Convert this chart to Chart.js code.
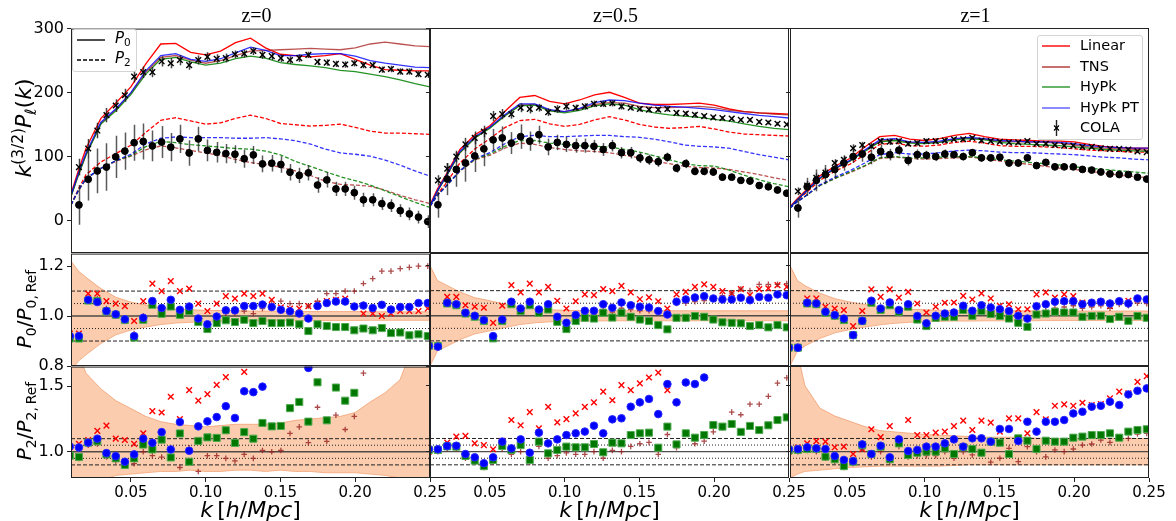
<!DOCTYPE html>
<html>
<head>
<meta charset="utf-8">
<title>Multipole comparison</title>
<script src="https://cdn.jsdelivr.net/npm/chart.js@4.4.1/dist/chart.umd.min.js"></script>
<style>
  html, body { margin: 0; padding: 0; background: #fff; }
  body { position: relative; width: 1176px; height: 521px; overflow: hidden; font-family: "DejaVu Sans", sans-serif; color: #000; }
  canvas { position: absolute; }
  .txt { position: absolute; white-space: nowrap; line-height: 1; z-index: 5; }
  .title { font-family: "Liberation Serif", serif; font-size: 20px; transform: translateX(-50%); top: 5px; }
  .xlab { font-size: 22px; transform: translateX(-50%); top: 499px; }
  .ylab { transform: translate(-50%, -50%) rotate(-90deg); }
  .sb { font-size: 0.7em; vertical-align: -0.3em; }
  .sp { font-size: 0.7em; vertical-align: 0.55em; }
  .leg { position: absolute; background: rgba(255,255,255,0.8); border: 1px solid #d4d4d4; border-radius: 3px; box-sizing: border-box; z-index: 4; }
  .sw { position: absolute; z-index: 5; }
</style>
</head>
<body>
<script>
// k bins of the COLA measurement (h/Mpc)
const kBins = [0.0092, 0.0153, 0.0215, 0.0276, 0.0337, 0.0399, 0.0460, 0.0522, 0.0583, 0.0644,
  0.0706, 0.0767, 0.0828, 0.0890, 0.0951, 0.1012, 0.1074, 0.1135, 0.1196, 0.1258,
  0.1319, 0.1380, 0.1442, 0.1503, 0.1564, 0.1626, 0.1687, 0.1748, 0.1810, 0.1871,
  0.1933, 0.1994, 0.2055, 0.2117, 0.2178, 0.2239, 0.2301, 0.2362, 0.2423, 0.2485];
// k grid of the model curves
const lineK = [0.01, 0.015, 0.02, 0.03, 0.04, 0.05, 0.06, 0.07, 0.08, 0.09, 0.10, 0.11, 0.12,
  0.13, 0.14, 0.15, 0.16, 0.17, 0.18, 0.19, 0.20, 0.21, 0.22, 0.23, 0.24, 0.25];
// k grid of the error bands
const bandK = [0.01, 0.015, 0.02, 0.03, 0.04, 0.05, 0.06, 0.07, 0.08, 0.09, 0.10, 0.11, 0.12,
  0.13, 0.14, 0.15, 0.16, 0.17, 0.18, 0.19, 0.20, 0.21, 0.22, 0.23, 0.235, 0.2422, 0.2425, 0.2428, 0.25];

const xTicks = [0.05, 0.10, 0.15, 0.20, 0.25];
const yTicksTop = [0, 100, 200, 300];
const yTicksP0 = [0.8, 1.0, 1.2];
const yTicksP2 = [1.0, 1.5];
const refLevels = [0.9, 0.95, 1.0, 1.05, 1.1];
const zLabels = ['z=0', 'z=0.5', 'z=1'];
const modelNames = ['Linear', 'TNS', 'HyPk', 'HyPk PT', 'COLA'];

// ---- z = 0 ----
const linP0_z0 = [42, 79, 113, 160, 184, 209, 245, 276, 277, 263, 259, 265, 278, 285, 270, 260, 258, 256, 258, 261, 252, 243, 236, 235, 234, 234];
const tnsP0_z0 = [38, 72, 103, 152, 174, 199, 232, 255, 258, 251, 246, 250, 258, 265, 266, 267, 268, 269, 268, 267, 270, 276, 279, 276, 273, 272];
const hypkP0_z0 = [38, 72, 103, 151, 172, 197, 229, 252, 255, 248, 243, 246, 253, 257, 254, 247, 244, 242, 239, 235, 233, 229, 225, 220, 214, 209];
const hypkptP0_z0 = [40, 75, 106, 154, 175, 200, 234, 258, 261, 252, 249, 253, 262, 271, 266, 258, 258, 260, 261, 261, 257, 250, 246, 243, 240, 239];
const linP2_z0 = [25, 50, 72, 92, 105, 118, 138, 157, 161, 156, 151, 153, 160, 165, 160, 152, 150, 148, 149, 151, 146, 140, 137, 137, 136, 135];
const tnsP2_z0 = [25, 47, 65, 82, 93, 101, 111, 117, 114, 110, 106, 102, 96, 91, 88, 84, 78, 71, 62, 57, 56, 54, 48, 40, 33, 27];
const hypkP2_z0 = [25, 48, 66, 82, 94, 102, 116, 124, 122, 119, 117, 115, 113, 112, 109, 103, 93, 85, 77, 69, 63, 56, 47, 38, 29, 21];
const hypkptP2_z0 = [25, 48, 66, 82, 94, 104, 120, 129, 131, 130, 130, 130, 129, 129, 130, 128, 125, 120, 112, 106, 104, 101, 95, 87, 78, 70];
const colaP0_z0 = [null, 84, 113, 141, 165, 180, 196, 225, 232, 232, 249, 246, 251, 243, 251, 256, 253, 254, 260, 261,
  265, 259, 257, 254, 251, 254, 259, 248, 247, 245, 244, 246, 243, 243, 236, 237, 233, 233, 229, 228];
const colaP0Err_z0 = [0, 13, 15, 12, 11, 10, 10, 9, 9, 8, 8, 8, 8, 7, 7, 7, 7, 7, 6, 6, 6, 6, 6, 6, 6, 6, 5, 5, 5, 5, 5, 5, 5, 5, 5, 5, 5, 5, 5, 5];
const colaP2_z0 = [null, 25, 65, 78, 84, 100, 109, 122, 124, 117, 123, 115, 128, 106, 128, 110, 107, 105, 104, 97,
  103, 89, 90, 88, 76, 71, 75, 56, 64, 50, 50, 44, 33, 33, 27, 24, 16, 11, 6, -1];
const colaP2Err_z0 = [0, 31, 33, 35, 37, 33, 29, 28, 28, 24, 25, 22, 22, 20, 19, 17, 16, 15, 14, 14, 14, 13, 13, 13, 13, 12, 12, 12, 12, 11, 11, 11, 11, 10, 10, 10, 10, 10, 10, 10];
const linR0_z0 = [0.93, 0.93, 1.09, 1.09, 1.06, 1.05, 1.04, 0.98, 1.06, 1.13, 1.10, 1.14, 1.10, 1.11, 1.05, 1.02, 1.05, 1.08, 1.07, 1.09,
  1.08, 1.09, 1.065, 1.035, 1.03, 1.03, 1.04, 1.05, 1.06, 1.065, 1.07, 1.04, 1.01, 1.01, 1.00, 1.01, 1.02, 1.02, 1.02, 1.03];
const tnsR0_z0 = [0.92, 0.92, 1.07, 1.07, 1.03, 1.01, 0.99, 0.93, 1.00, 1.06, 1.03, 1.06, 1.02, 1.03, 0.98, 0.97, 0.99, 1.01, 1.01, 1.02,
  1.01, 1.03, 1.05, 1.06, 1.05, 1.05, 1.04, 1.06, 1.09, 1.09, 1.10, 1.10, 1.13, 1.15, 1.18, 1.18, 1.19, 1.195, 1.20, 1.20];
const hypkptR0_z0 = [0.92, 0.92, 1.065, 1.056, 1.02, 1.007, 0.987, 0.92, 0.993, 1.06, 1.032, 1.065, 1.025, 1.038, 0.99, 0.967, 0.998, 1.023, 1.023, 1.04,
  1.04, 1.046, 1.036, 1.025, 1.019, 1.01, 0.99, 1.04, 1.052, 1.058, 1.058, 1.038, 1.042, 1.032, 1.045, 1.026, 1.036, 1.036, 1.052, 1.052];
const hypkR0_z0 = [0.91, 0.91, 1.062, 1.06, 1.019, 1.005, 0.984, 0.914, 0.985, 1.045, 1.009, 1.038, 1.005, 1.02, 0.976, 0.948, 0.972, 0.983, 0.976, 0.985,
  0.972, 0.98, 0.972, 0.972, 0.974, 0.967, 0.94, 0.967, 0.96, 0.956, 0.956, 0.943, 0.95, 0.943, 0.952, 0.932, 0.934, 0.923, 0.927, 0.92];
const linR2_z0 = [1.00, 1.06, 1.09, 1.16, 1.20, 1.10, 1.09, 1.06, 1.14, 1.31, 1.30, 1.42, 1.25, 1.47, 1.39, 1.44, 1.51, 1.57, 1.68, 1.61,
  1.72, 1.78, 1.80, 1.85, 1.90, 2.00, 2.00, 2.10, 2.10, 2.20, 2.20, 2.30, 2.40, 2.40, 2.50, 2.50, 2.60, 2.70, 2.80, 2.90];
const tnsR2_z0 = [0.97, 0.95, 1.05, 1.06, 0.96, 0.93, 0.89, 0.91, 1.00, 0.97, 0.96, 1.02, 0.88, 1.03, 0.85, 0.97, 0.97, 0.95, 0.93, 0.98,
  0.95, 1.01, 1.00, 1.01, 1.14, 1.19, 1.07, 1.34, 1.08, 1.28, 1.17, 1.27, 1.60, 1.70, 1.80, 1.90, 2.00, 2.10, 2.20, 2.30];
const hypkptR2_z0 = [1.04, 1.033, 1.07, 1.10, 0.99, 0.967, 0.924, 0.98, 1.10, 1.068, 1.15, 1.018, 1.227, 1.008, 1.194, 1.232, 1.265, 1.348, 1.258, 1.462,
  1.455, 1.497, 1.70, 1.75, 1.80, 1.85, 1.64, 1.90, 2.00, 2.10, 2.10, 2.20, 2.50, 2.60, 2.80, 3.00, 3.20, 3.40, 3.60, 3.80];
const hypkR2_z0 = [0.97, 0.96, 1.07, 1.08, 0.98, 0.95, 0.90, 0.95, 1.055, 1.018, 1.093, 0.957, 1.14, 0.924, 1.083, 1.11, 1.106, 1.164, 1.068, 1.15,
  1.10, 1.22, 1.194, 1.197, 1.333, 1.38, 1.23, 1.53, 1.24, 1.49, 1.39, 1.45, 1.75, 1.80, 1.90, 2.00, 2.10, 2.20, 2.30, 2.40];
const bandP0_z0 = [0.22, 0.18, 0.155, 0.11, 0.075, 0.056, 0.044, 0.034, 0.028, 0.025, 0.023, 0.022, 0.021, 0.02, 0.02,
  0.019, 0.019, 0.018, 0.018, 0.018, 0.018, 0.017, 0.017, 0.017, 0.017, 0.017, 0.017, 0.017, 0.017];
const bandUpP2_z0 = [2.5, 1.75, 1.60, 1.48, 1.39, 1.33, 1.27, 1.23, 1.21, 1.20, 1.19, 1.20, 1.21, 1.21, 1.21,
  1.22, 1.24, 1.25, 1.26, 1.27, 1.30, 1.38, 1.45, 1.55, 1.70, 2.5, 3.0, 2.5, 2.5];
const bandLoP2_z0 = [0.0, 0.5, 0.7, 0.78, 0.82, 0.83, 0.84, 0.85, 0.85, 0.86, 0.85, 0.85, 0.86, 0.86, 0.85,
  0.86, 0.85, 0.85, 0.84, 0.84, 0.84, 0.83, 0.82, 0.80, 0.78, 0.75, -1.0, 0.75, 0.7];

// ---- z = 0.5 ----
const linP0_z05 = [25, 50, 69, 111, 134, 148, 170, 192, 195, 186, 182, 188, 196, 200, 192, 183, 181, 181, 182, 183, 180, 174, 170, 168, 167, 166];
const tnsP0_z05 = [23, 46, 66, 106, 129, 145, 164, 180, 181, 172, 170, 174, 181, 184, 183, 178, 176, 176, 177, 178, 176, 172, 170, 168, 166, 165];
const hypkP0_z05 = [23, 46, 66, 106, 129, 144, 163, 179, 180, 171, 168, 172, 179, 182, 180, 173, 168, 165, 163, 161, 158, 155, 151, 147, 144, 142];
const hypkptP0_z05 = [23, 47, 67, 108, 131, 146, 165, 182, 182, 173, 170, 175, 184, 188, 187, 183, 180, 178, 177, 175, 173, 170, 167, 164, 162, 160];
const linP2_z05 = [23, 42, 56, 90, 112, 128, 145, 156, 158, 151, 147, 150, 157, 162, 157, 150, 146, 144, 145, 147, 143, 138, 135, 134, 133, 132];
const tnsP2_z05 = [23, 40, 52, 77, 95, 102, 113, 121, 119, 114, 111, 109, 108, 106, 102, 98, 93, 89, 85, 83, 82, 80, 76, 72, 67, 63];
const hypkP2_z05 = [23, 40, 52, 78, 96, 104, 116, 125, 125, 121, 119, 117, 116, 115, 111, 107, 101, 95, 89, 86, 85, 79, 71, 64, 58, 53];
const hypkptP2_z05 = [23, 40, 52, 78, 97, 106, 120, 131, 133, 131, 131, 132, 133, 133, 131, 130, 127, 123, 118, 116, 115, 113, 108, 103, 99, 95];
const colaP0_z05 = [null, 63, 81, 100, 119, 129, 139, 163, 166, 166, 176, 174, 176, 169, 174, 178, 176, 178, 182, 182,
  183, 178, 176, 174, 173, 173, 174, 168, 167, 165, 163, 161, 160, 159, 157, 157, 154, 153, 151, 150];
const colaP0Err_z05 = [0, 8, 9, 9, 10, 10, 9, 8, 8, 7, 7, 7, 6, 6, 6, 6, 5, 5, 5, 5, 5, 5, 4, 4, 4, 4, 4, 4, 4, 4, 3, 3, 3, 3, 3, 3, 3, 3, 3, 3];
const colaP2_z05 = [null, 25, 65, 80, 90, 101, 112, 126, 129, 121, 131, 124, 134, 115, 122, 119, 117, 117, 116, 111,
  117, 106, 106, 98, 95, 92, 99, 82, 89, 77, 77, 76, 68, 68, 63, 62, 55, 53, 48, 43];
const colaP2Err_z05 = [0, 20, 25, 27, 29, 25, 27, 17, 18, 17, 19, 15, 14, 13, 12, 12, 11, 11, 10, 10, 9, 9, 9, 8, 8, 8, 7, 7, 7, 6, 6, 6, 6, 5, 5, 5, 5, 5, 5, 5];
const linR0_z05 = [0.88, 0.877, 1.075, 1.075, 1.042, 1.036, 1.032, 0.972, 1.04, 1.122, 1.093, 1.128, 1.093, 1.115, 1.06, 1.029, 1.058, 1.085, 1.082, 1.106,
  1.098, 1.119, 1.093, 1.066, 1.073, 1.058, 1.029, 1.085, 1.095, 1.115, 1.125, 1.115, 1.098, 1.089, 1.106, 1.082, 1.106, 1.109, 1.122, 1.115];
const tnsR0_z05 = [0.88, 0.875, 1.05, 1.045, 1.01, 1.0, 0.985, 0.92, 0.985, 1.05, 1.02, 1.045, 1.015, 1.03, 0.985, 0.96, 0.99, 1.005, 1.005, 1.025,
  1.015, 1.03, 1.025, 1.02, 1.02, 1.015, 1.005, 1.049, 1.05, 1.056, 1.06, 1.07, 1.08, 1.09, 1.106, 1.1, 1.125, 1.125, 1.125, 1.128];
const hypkptR0_z05 = [0.88, 0.877, 1.052, 1.046, 1.012, 1.0, 0.983, 0.919, 0.985, 1.056, 1.029, 1.056, 1.025, 1.046, 0.996, 0.972, 1.003, 1.02, 1.02, 1.046,
  1.032, 1.053, 1.042, 1.036, 1.033, 1.019, 1.005, 1.056, 1.065, 1.073, 1.078, 1.069, 1.065, 1.065, 1.072, 1.062, 1.075, 1.072, 1.085, 1.082];
const hypkR0_z05 = [0.88, 0.88, 1.049, 1.042, 1.009, 0.996, 0.979, 0.91, 0.979, 1.046, 1.019, 1.042, 1.012, 1.025, 0.976, 0.947, 0.979, 0.992, 0.989, 1.012,
  0.993, 1.012, 0.996, 0.985, 0.979, 0.963, 0.946, 0.992, 0.992, 0.999, 0.996, 0.985, 0.974, 0.972, 0.97, 0.959, 0.963, 0.954, 0.963, 0.954];
const linR2_z05 = [1.00, 1.02, 1.068, 1.114, 1.12, 1.063, 1.05, 1.018, 1.083, 1.24, 1.20, 1.30, 1.177, 1.34, 1.222, 1.247, 1.29, 1.34, 1.374, 1.455,
  1.39, 1.505, 1.467, 1.518, 1.563, 1.60, 1.467, 1.70, 1.75, 1.80, 1.85, 1.90, 1.95, 2.00, 2.05, 2.10, 2.15, 2.20, 2.25, 2.30];
const tnsR2_z05 = [1.0, 1.0, 1.02, 1.02, 0.95, 0.92, 0.88, 0.92, 1.02, 0.98, 1.0, 0.92, 1.04, 0.95, 0.97, 0.99, 0.98, 0.98, 1.0, 0.95,
  1.01, 1.0, 1.04, 1.06, 1.07, 0.98, 1.13, 1.03, 1.144, 1.06, 1.08, 1.15, 1.18, 1.30, 1.28, 1.36, 1.36, 1.42, 1.52, 1.56];
const hypkptR2_z05 = [1.02, 1.018, 1.043, 1.045, 0.982, 0.957, 0.912, 0.957, 1.076, 1.025, 1.093, 0.992, 1.144, 1.063, 1.093, 1.126, 1.139, 1.152, 1.197, 1.139,
  1.245, 1.253, 1.341, 1.374, 1.40, 1.285, 1.513, 1.374, 1.525, 1.513, 1.563, 1.70, 1.75, 1.80, 1.85, 1.90, 1.95, 2.00, 2.10, 2.20];
const hypkR2_z05 = [1.013, 1.013, 1.04, 1.038, 0.967, 0.932, 0.89, 0.937, 1.043, 1.013, 1.05, 0.937, 1.076, 0.987, 1.013, 1.038, 1.033, 1.033, 1.058, 0.995,
  1.068, 1.063, 1.126, 1.139, 1.144, 1.03, 1.19, 1.055, 1.139, 1.106, 1.126, 1.202, 1.19, 1.21, 1.15, 1.195, 1.164, 1.20, 1.24, 1.26];
const bandP0_z05 = [0.20, 0.14, 0.125, 0.095, 0.072, 0.06, 0.047, 0.035, 0.028, 0.024, 0.022, 0.021, 0.021, 0.02, 0.02,
  0.02, 0.02, 0.02, 0.02, 0.02, 0.02, 0.02, 0.02, 0.02, 0.02, 0.02, 0.02, 0.02, 0.02];
// no P2 band is drawn in the z=0.5 column
const bandUpP2_z05 = null;
const bandLoP2_z05 = null;

// ---- z = 1 ----
const linP0_z1 = [22, 35, 46, 70, 85, 97, 115, 131, 133, 127, 125, 128, 133, 136, 131, 127, 126, 125, 124, 124, 123, 119, 116, 114, 113, 113];
const tnsP0_z1 = [21, 33, 44, 66, 81, 93, 109, 124, 126, 122, 121, 123, 127, 129, 127, 124, 123, 123, 122, 121, 118, 115, 113, 112, 111, 110];
const hypkP0_z1 = [21, 33, 44, 66, 81, 93, 108, 123, 125, 121, 120, 122, 126, 128, 126, 122, 120, 119, 118, 117, 115, 113, 111, 110, 109, 108];
const hypkptP0_z1 = [21, 33, 44, 67, 82, 94, 110, 126, 128, 123, 122, 124, 128, 130, 128, 125, 124, 123, 123, 122, 120, 117, 115, 114, 113, 113];
const linP2_z1 = [21, 32, 42, 63, 77, 88, 103, 119, 121, 117, 116, 118, 122, 124, 121, 117, 116, 116, 115, 114, 112, 110, 109, 108, 107, 107];
const tnsP2_z1 = [20, 30, 38, 55, 66, 75, 85, 97, 99, 97, 96, 97, 98, 99, 97, 93, 90, 88, 85, 82, 80, 77, 74, 71, 69, 67];
const hypkP2_z1 = [20, 30, 38, 55, 66, 76, 86, 98, 100, 98, 98, 99, 100, 100, 98, 95, 93, 91, 89, 87, 84, 82, 80, 78, 76, 74];
const hypkptP2_z1 = [20, 30, 38, 56, 68, 78, 90, 103, 106, 104, 104, 106, 109, 110, 109, 107, 106, 106, 105, 104, 103, 101, 99, 98, 96, 95];
const colaP0_z1 = [null, 46, 55, 67, 75, 90, 95, 113, 118, 116, 124, 123, 124, 120, 121, 124, 124, 125, 127, 127,
  129, 125, 124, 123, 122, 122, 124, 120, 120, 118, 117, 117, 115, 115, 113, 112, 112, 111, 108, 107];
const colaP0Err_z1 = [0, 6, 7, 7, 7, 6, 6, 6, 5, 5, 5, 5, 4, 4, 4, 4, 4, 4, 3, 3, 3, 3, 3, 3, 3, 3, 3, 3, 3, 3, 2, 2, 2, 2, 2, 2, 2, 2, 2, 2];
const colaP2_z1 = [null, 20, 53, 63, 72, 80, 90, 100, 104, 99, 108, 103, 110, 94, 103, 102, 100, 104, 103, 100,
  106, 98, 98, 99, 90, 90, 98, 86, 91, 84, 84, 84, 80, 79, 76, 73, 72, 72, 68, 65];
const colaP2Err_z1 = [0, 15, 14, 17, 15, 14, 12, 10, 12, 11, 10, 9, 8, 8, 8, 7, 7, 7, 6, 6, 6, 6, 5, 5, 5, 5, 5, 4, 4, 4, 4, 4, 4, 4, 4, 4, 3, 3, 3, 3];
const linR0_z1 = [0.87, 0.873, 1.069, 1.069, 1.036, 1.029, 1.023, 0.959, 1.019, 1.105, 1.075, 1.105, 1.072, 1.095, 1.049, 1.013, 1.036, 1.052, 1.053, 1.079,
  1.065, 1.089, 1.069, 1.04, 1.046, 1.026, 1.026, 1.085, 1.093, 1.072, 1.085, 1.078, 1.053, 1.049, 1.056, 1.038, 1.056, 1.06, 1.065, 1.062];
const tnsR0_z1 = [0.87, 0.873, 1.05, 1.047, 1.013, 1.0, 0.985, 0.92, 0.98, 1.055, 1.025, 1.047, 1.018, 1.04, 0.99, 0.965, 0.995, 1.0, 1.005, 1.03,
  1.01, 1.03, 1.02, 1.012, 1.005, 0.99, 0.98, 1.016, 1.02, 1.03, 1.035, 1.04, 1.03, 1.035, 1.04, 1.03, 1.045, 1.04, 1.05, 1.048];
const hypkptR0_z1 = [0.873, 0.873, 1.052, 1.049, 1.016, 1.003, 0.989, 0.923, 0.98, 1.06, 1.029, 1.053, 1.023, 1.046, 0.999, 0.97, 1.0, 1.009, 1.013, 1.04,
  1.02, 1.042, 1.033, 1.026, 1.019, 1.0, 0.989, 1.038, 1.046, 1.056, 1.058, 1.058, 1.046, 1.052, 1.056, 1.049, 1.058, 1.049, 1.069, 1.065];
const hypkR0_z1 = [0.873, 0.873, 1.049, 1.046, 1.012, 1.0, 0.983, 0.923, 0.979, 1.052, 1.023, 1.042, 1.016, 1.036, 0.985, 0.959, 0.992, 0.996, 0.996, 1.023,
  1.0, 1.019, 1.007, 0.999, 0.989, 0.972, 0.956, 1.005, 1.009, 1.016, 1.013, 1.013, 0.996, 0.999, 1.0, 0.987, 0.996, 0.98, 0.999, 0.992];
const linR2_z1 = [1.0, 1.03, 1.063, 1.08, 1.076, 1.033, 1.038, 0.982, 1.018, 1.17, 1.11, 1.194, 1.093, 1.24, 1.126, 1.126, 1.144, 1.152, 1.194, 1.235,
  1.164, 1.235, 1.22, 1.152, 1.253, 1.253, 1.139, 1.30, 1.245, 1.348, 1.359, 1.348, 1.371, 1.354, 1.361, 1.404, 1.455, 1.442, 1.53, 1.573];
const tnsR2_z1 = [1.0, 1.0, 1.01, 1.0, 0.95, 0.93, 0.88, 0.91, 1.02, 0.96, 1.0, 0.92, 1.04, 0.96, 0.97, 0.97, 0.97, 1.0, 0.95, 1.0,
  0.975, 0.982, 0.92, 0.95, 1.025, 0.924, 1.038, 1.0, 0.96, 1.013, 1.0, 1.02, 1.05, 1.058, 1.088, 1.07, 1.106, 1.10, 1.134, 1.139];
const hypkptR2_z1 = [1.02, 1.02, 1.033, 1.025, 1.02, 0.967, 0.937, 0.929, 1.055, 0.982, 1.045, 0.957, 1.093, 1.005, 1.013, 1.038, 1.038, 1.063, 1.093, 1.038,
  1.101, 1.101, 1.076, 1.172, 1.172, 1.081, 1.227, 1.152, 1.227, 1.227, 1.24, 1.29, 1.303, 1.341, 1.348, 1.379, 1.354, 1.434, 1.462, 1.48];
const hypkR2_z1 = [1.01, 1.013, 1.02, 1.02, 0.962, 0.942, 0.89, 0.924, 1.05, 0.982, 1.038, 0.942, 1.063, 0.975, 0.992, 1.0, 1.0, 1.025, 0.982, 1.033,
  1.02, 0.992, 1.076, 1.068, 0.982, 1.101, 1.083, 1.02, 1.083, 1.076, 1.076, 1.106, 1.114, 1.126, 1.126, 1.139, 1.106, 1.152, 1.164, 1.17];
const bandP0_z1 = [0.20, 0.14, 0.12, 0.09, 0.068, 0.055, 0.045, 0.036, 0.03, 0.026, 0.024, 0.022, 0.021, 0.021, 0.02,
  0.02, 0.02, 0.02, 0.019, 0.019, 0.019, 0.019, 0.019, 0.019, 0.019, 0.019, 0.019, 0.019, 0.019];
const bandUpP2_z1 = [2.0, 1.75, 1.50, 1.33, 1.27, 1.23, 1.19, 1.16, 1.15, 1.14, 1.13, 1.125, 1.12, 1.115, 1.11,
  1.11, 1.11, 1.105, 1.10, 1.10, 1.10, 1.10, 1.10, 1.10, 1.10, 1.10, 1.10, 1.10, 1.10];
const bandLoP2_z1 = [0.80, 0.83, 0.85, 0.86, 0.87, 0.88, 0.885, 0.89, 0.89, 0.89, 0.89, 0.89, 0.895, 0.9, 0.9,
  0.9, 0.9, 0.9, 0.9, 0.9, 0.9, 0.9, 0.9, 0.9, 0.9, 0.9, 0.9, 0.9, 0.9];

// ---------------- layout ----------------
const X_MIN = 0.01, X_MAX = 0.25;
const COL_X = [71, 430, 790], COL_W = 359;
const ROW_Y = [28, 253, 366], ROW_H = [225, 113, 112];
const PAD = { l: 70, r: 24, t: 12, b: 36 };
const Y_RANGE = [[-50, 300], [0.8, 1.25], [0.8, 1.65]];
const Y_TICKS = [yTicksTop, yTicksP0, yTicksP2];

const C_LIN = 'rgb(255,0,0)';
const C_TNS = 'rgba(165,25,25,0.75)';
const C_HYP = 'rgba(0,128,0,0.85)';
const C_PT = 'rgba(0,0,255,0.8)';
const BAND_FILL = 'rgba(248,170,120,0.6)';
const BAND_EDGE = 'rgba(240,150,100,0.7)';

Chart.defaults.font.family = '"DejaVu Sans", sans-serif';
Chart.defaults.color = '#000';

const cols = [
  { lin0: linP0_z0, tns0: tnsP0_z0, hyp0: hypkP0_z0, pt0: hypkptP0_z0, lin2: linP2_z0, tns2: tnsP2_z0, hyp2: hypkP2_z0, pt2: hypkptP2_z0,
    c0: colaP0_z0, e0: colaP0Err_z0, c2: colaP2_z0, e2: colaP2Err_z0,
    r0: [linR0_z0, tnsR0_z0, hypkR0_z0, hypkptR0_z0], r2: [linR2_z0, tnsR2_z0, hypkR2_z0, hypkptR2_z0],
    b0: bandP0_z0, bu2: bandUpP2_z0, bl2: bandLoP2_z0 },
  { lin0: linP0_z05, tns0: tnsP0_z05, hyp0: hypkP0_z05, pt0: hypkptP0_z05, lin2: linP2_z05, tns2: tnsP2_z05, hyp2: hypkP2_z05, pt2: hypkptP2_z05,
    c0: colaP0_z05, e0: colaP0Err_z05, c2: colaP2_z05, e2: colaP2Err_z05,
    r0: [linR0_z05, tnsR0_z05, hypkR0_z05, hypkptR0_z05], r2: [linR2_z05, tnsR2_z05, hypkR2_z05, hypkptR2_z05],
    b0: bandP0_z05, bu2: bandUpP2_z05, bl2: bandLoP2_z05 },
  { lin0: linP0_z1, tns0: tnsP0_z1, hyp0: hypkP0_z1, pt0: hypkptP0_z1, lin2: linP2_z1, tns2: tnsP2_z1, hyp2: hypkP2_z1, pt2: hypkptP2_z1,
    c0: colaP0_z1, e0: colaP0Err_z1, c2: colaP2_z1, e2: colaP2Err_z1,
    r0: [linR0_z1, tnsR0_z1, hypkR0_z1, hypkptR0_z1], r2: [linR2_z1, tnsR2_z1, hypkR2_z1, hypkptR2_z1],
    b0: bandP0_z1, bu2: bandUpP2_z1, bl2: bandLoP2_z1 }
];

// ---------------- plugins ----------------
const errorBars = {
  id: 'errorBars',
  beforeDatasetDraw(chart, args) {
    const ds = chart.data.datasets[args.index];
    if (!ds.errorColor) return;
    const { ctx, chartArea: a, scales } = chart;
    ctx.save();
    ctx.beginPath();
    ctx.rect(a.left, a.top, a.right - a.left, a.bottom - a.top);
    ctx.clip();
    ctx.strokeStyle = ds.errorColor;
    ctx.lineWidth = 1.5;
    ds.data.forEach(p => {
      const px = Math.round(scales.x.getPixelForValue(p.x)) + 0.5;
      ctx.beginPath();
      ctx.moveTo(px, scales.y.getPixelForValue(p.y - p.e));
      ctx.lineTo(px, scales.y.getPixelForValue(p.y + p.e));
      ctx.stroke();
    });
    ctx.restore();
  }
};

const frame = {
  id: 'frame',
  afterDraw(chart) {
    const { ctx, chartArea: a } = chart;
    ctx.save();
    ctx.strokeStyle = '#222';
    ctx.lineWidth = 1;
    ctx.strokeRect(a.left + 0.5, a.top + 0.5, a.right - a.left - 1, a.bottom - a.top - 1);
    ctx.restore();
  }
};

// ---------------- dataset helpers ----------------
const xy = (xs, ys) => xs.map((x, i) => ({ x, y: ys[i] })).filter(p => p.y !== null);
const xye = (xs, ys, es) => xs.map((x, i) => ({ x, y: ys[i], e: es[i] })).filter(p => p.y !== null);

function curve(ys, color, dashed, order) {
  return { data: xy(lineK, ys), borderColor: color, borderWidth: 1.3, borderDash: dashed ? [4, 2] : [],
    pointRadius: 0, fill: false, tension: 0, order };
}
function marks(data, style, r, fill, edge, bw, order) {
  return { data, showLine: false, pointStyle: style, pointRadius: r, pointBackgroundColor: fill,
    pointBorderColor: edge, pointBorderWidth: bw, borderColor: edge, order };
}
function band(upper, lower) {
  if (!upper || !lower) return [];
  return [
    { data: xy(bandK, upper), borderColor: BAND_EDGE, borderWidth: 1, backgroundColor: BAND_FILL, fill: '+1', pointRadius: 0, tension: 0, order: 30 },
    { data: xy(bandK, lower), borderColor: BAND_EDGE, borderWidth: 1, fill: false, pointRadius: 0, tension: 0, order: 30 }
  ];
}
function refLines() {
  return refLevels.map(lvl => {
    const solid = lvl === 1.0, dotted = Math.abs(lvl - 1) < 0.06 && !solid;
    return { data: [{ x: X_MIN, y: lvl }, { x: X_MAX, y: lvl }], pointRadius: 0, fill: false,
      borderColor: solid ? 'rgba(60,60,60,0.9)' : '#222', borderWidth: solid ? 1.4 : 1,
      borderDash: solid ? [] : (dotted ? [1, 2] : [4, 2]), order: 20 };
  });
}
function ratioSets(up, lo, r) {
  return [
    ...band(up, lo),
    ...refLines(),
    marks(xy(kBins, r[0]), 'crossRot', 4, C_LIN, C_LIN, 1.4, 4),
    marks(xy(kBins, r[1]), 'cross', 2.8, 'rgba(150,30,30,0.8)', 'rgba(150,30,30,0.8)', 1.3, 3),
    marks(xy(kBins, r[2]), 'rect', 5, 'rgb(0,120,0)', 'rgb(80,170,80)', 1, 2),
    marks(xy(kBins, r[3]), 'circle', 3.8, 'rgb(0,0,255)', 'rgb(40,40,255)', 1, 1)
  ];
}
function topSets(z) {
  const cross = marks(xye(kBins, z.c0, z.e0), 'crossRot', 4, '#000', '#000', 1.4, 1);
  cross.errorColor = 'rgba(20,20,20,0.8)';
  const dots = marks(xye(kBins, z.c2, z.e2), 'circle', 3.4, '#000', '#000', 1, 1);
  dots.errorColor = 'rgba(20,20,20,0.7)';
  return [cross, dots,
    curve(z.lin0, C_LIN, false, 9), curve(z.tns0, C_TNS, false, 8), curve(z.hyp0, C_HYP, false, 7), curve(z.pt0, C_PT, false, 6),
    curve(z.lin2, C_LIN, true, 9), curve(z.tns2, C_TNS, true, 8), curve(z.hyp2, C_HYP, true, 7), curve(z.pt2, C_PT, true, 6)];
}

// ---------------- panels ----------------
function panel(col, row, datasets) {
  const cv = document.createElement('canvas');
  const w = COL_W + PAD.l + PAD.r, h = ROW_H[row] + PAD.t + PAD.b;
  cv.width = w; cv.height = h;
  cv.style.width = w + 'px'; cv.style.height = h + 'px';
  cv.style.left = (COL_X[col] - PAD.l) + 'px';
  cv.style.top = (ROW_Y[row] - PAD.t) + 'px';
  document.body.appendChild(cv);
  const bottom = row === 2, first = col === 0;
  const yt = Y_TICKS[row];
  new Chart(cv, {
    type: 'line',
    data: { datasets },
    options: {
      responsive: false, animation: false, devicePixelRatio: 1, events: [],
      layout: { padding: { left: 0, right: PAD.r, top: PAD.t, bottom: 0 } },
      plugins: { legend: { display: false }, tooltip: { enabled: false } },
      scales: {
        x: {
          type: 'linear', min: X_MIN, max: X_MAX,
          afterFit: s => { s.height = PAD.b; },
          afterBuildTicks: s => { s.ticks = xTicks.map(v => ({ value: v })); },
          grid: { display: bottom, drawOnChartArea: false, tickLength: 4, color: '#222' },
          border: { display: false },
          ticks: { display: bottom, padding: 2, maxRotation: 0, autoSkip: false, color: '#000',
            font: { size: 15 }, callback: v => v.toFixed(2) }
        },
        y: {
          type: 'linear', min: Y_RANGE[row][0], max: Y_RANGE[row][1],
          afterFit: s => { s.width = PAD.l; },
          afterBuildTicks: s => { s.ticks = yt.map(v => ({ value: v })); },
          grid: { drawOnChartArea: false, tickLength: 4, color: '#222' },
          border: { display: false },
          ticks: { display: first, padding: 3, autoSkip: false, color: '#000', font: { size: 16 },
            callback: v => row === 0 ? String(v) : v.toFixed(1) }
        }
      }
    },
    plugins: [errorBars, frame]
  });
}

cols.forEach((z, c) => {
  panel(c, 0, topSets(z));
  panel(c, 1, ratioSets(z.b0.map(w => 1 + w), z.b0.map(w => 1 - w), z.r0));
  panel(c, 2, ratioSets(z.bu2, z.bl2, z.r2));
});

// ---------------- text ----------------
function addText(cls, html, style) {
  const d = document.createElement('div');
  d.className = 'txt ' + cls;
  d.innerHTML = html;
  Object.assign(d.style, style);
  document.body.appendChild(d);
  return d;
}
zLabels.forEach((t, c) => addText('title', t, { left: (COL_X[c] + COL_W / 2 + 6) + 'px' }));
COL_X.forEach(x => addText('xlab', '<i>k</i>\u2009[<i>h</i>/<i>Mpc</i>]', { left: (x + COL_W / 2) + 'px' }));
addText('ylab', '<i>k</i><span class="sp">(3/2)</span><i>P</i><span class="sb">\u2113</span>(<i>k</i>)', { left: '25px', top: '128px', fontSize: '22px' });
addText('ylab', '<i>P</i><span class="sb">0</span>/<i>P</i><span class="sb">0,\u2009Ref</span>', { left: '26px', top: '309px', fontSize: '20px' });
addText('ylab', '<i>P</i><span class="sb">2</span>/<i>P</i><span class="sb">2,\u2009Ref</span>', { left: '26px', top: '421px', fontSize: '20px' });

// legends
function box(l, t, w, h) {
  const d = document.createElement('div');
  d.className = 'leg';
  Object.assign(d.style, { left: l + 'px', top: t + 'px', width: w + 'px', height: h + 'px' });
  document.body.appendChild(d);
}
function swatch(l, cy, color, dash) {
  const s = document.createElementNS('http://www.w3.org/2000/svg', 'svg');
  s.setAttribute('width', 28); s.setAttribute('height', 4);
  s.setAttribute('class', 'sw');
  s.style.left = l + 'px'; s.style.top = (cy - 2) + 'px';
  s.innerHTML = '<line x1="0" y1="2" x2="28" y2="2" stroke="' + color + '" stroke-width="1.4"' + (dash ? ' stroke-dasharray="4 2"' : '') + '/>';
  document.body.appendChild(s);
}
box(72, 29, 65, 43);
swatch(77, 40, '#000', false);
swatch(77, 60, '#000', true);
addText('', '<i>P</i><span class="sb">0</span>', { left: '115px', top: '31px', fontSize: '15px' });
addText('', '<i>P</i><span class="sb">2</span>', { left: '115px', top: '51px', fontSize: '15px' });

box(1037, 35, 106, 105);
const legY = [46, 67, 87, 108, 128];
const legColors = [C_LIN, 'rgba(165,25,25,0.9)', C_HYP, 'rgba(60,60,255,0.85)'];
legColors.forEach((col, i) => swatch(1042, legY[i], col, false));
(function () {
  const s = document.createElementNS('http://www.w3.org/2000/svg', 'svg');
  s.setAttribute('width', 28); s.setAttribute('height', 20);
  s.setAttribute('class', 'sw');
  s.style.left = '1042px'; s.style.top = (legY[4] - 10) + 'px';
  s.innerHTML = '<line x1="14.5" y1="2" x2="14.5" y2="18" stroke="#222" stroke-width="1.4"/>' +
    '<line x1="12" y1="7.5" x2="17" y2="12.5" stroke="#000" stroke-width="1.3"/><line x1="17" y1="7.5" x2="12" y2="12.5" stroke="#000" stroke-width="1.3"/>';
  document.body.appendChild(s);
})();
modelNames.forEach((n, i) => addText('', n, { left: '1080px', top: (legY[i] - 8) + 'px', fontSize: '14.5px' }));
</script>
</body>
</html>
